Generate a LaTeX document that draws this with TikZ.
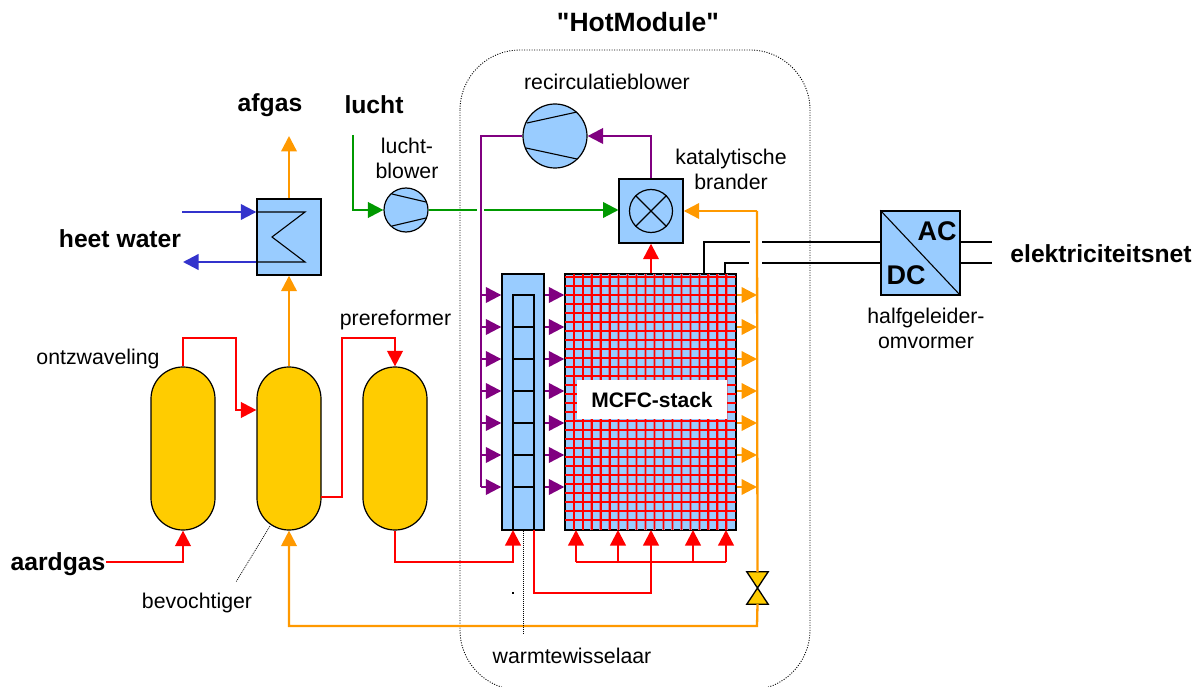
\documentclass[tikz,border=0pt]{standalone}
\usepackage{fontspec}
\setmainfont[Ligatures=TeXOff]{Liberation Sans}
\usetikzlibrary{arrows.meta}

\definecolor{unitblue}{HTML}{99CCFF}
\definecolor{vesselyellow}{HTML}{FFCC00}
\definecolor{flowred}{HTML}{FF0000}
\definecolor{floworange}{HTML}{FF9900}
\definecolor{flowpurple}{HTML}{800080}
\definecolor{flowgreen}{HTML}{009900}
\definecolor{flowblue}{HTML}{3333CC}

\tikzset{
  flow/.style={line width=2.3pt,-{Triangle[length=15.5pt,width=15.5pt]}},
  plain/.style={line width=2.3pt},
  unit/.style={draw=black,line width=1.4pt,fill=unitblue,inner sep=0pt,minimum width=#1,minimum height=#1},
  vessel/.style={draw=black,line width=1.2pt,fill=vesselyellow,inner sep=0pt,minimum width=64pt,minimum height=163pt,rounded corners=31.9pt},
  blower/.style={draw=black,line width=1.2pt,fill=unitblue,circle,inner sep=0pt,minimum size=#1},
  lbl/.style={font=\fontsize{21.3}{25}\selectfont,align=center,inner sep=0pt},
  biglbl/.style={font=\fontsize{24.7}{28}\selectfont\bfseries,align=center,inner sep=0pt},
  leader/.style={line width=0.7pt,dash pattern=on 1pt off 1pt}
}

\begin{document}
\begin{tikzpicture}[x=1pt,y=-1pt]

    \useasboundingbox (0,0) rectangle (1200,687);

    % HotModule
    \draw [line width=0.9pt,dash pattern=on 1pt off 1.5pt,rounded corners=60pt] (460,50) rectangle (810,690);

    % units
    \node [vessel] (ontzw) at (183,448.5) {};
    \node [vessel] (bevo) at (289,448.5) {};
    \node [vessel] (prer) at (395,448.5) {};
    \node [unit=64pt,minimum height=76pt] (boiler) at (289,237) {};
    \node [blower=44pt] (luchtbl) at (406,210) {};
    \node [blower=64pt] (recirc) at (555,136) {};
    \node [unit=64pt] (brander) at (651,211) {};
    \node [blower=43pt] (kat) at (651,211) {};
    \node [unit=42pt,minimum height=256pt] (hxcol) at (523,402) {};
    \node [unit=171pt,minimum height=256pt] (stack) at (650.5,402) {};
    \node [unit=79pt,minimum height=84pt] (conv) at (920.5,253) {};
    \node [inner sep=0pt,minimum width=21pt,minimum height=32pt] (valve) at (757.5,588) {};
    \node [fill=black,inner sep=0pt,minimum size=1.5pt] (speck) at (513,593) {};

    % free ends and levels
    \coordinate (waterin) at (182,212);
    \coordinate (waterout) at (183,262);
    \coordinate (afgasend) at (289,136);
    \coordinate (luchtin) at (353,135);
    \coordinate (gasin) at (106,562);
    \coordinate (purplebus) at (481,136);
    \coordinate (orangebus) at (757,211);
    \coordinate (returnlvl) at (757,626);
    \coordinate (manifold) at (576,562);
    \coordinate (powera) at (704,242);
    \coordinate (powerb) at (725,263);
    \coordinate (meet) at (651,562);

    % stack grid
    \begin{scope}
      \clip (stack.north west) rectangle (stack.south east);
      \foreach \x in {1,...,18}
        \draw [flowred!35!unitblue,line width=2.8pt] (565+8.95*\x,274) -- (565+8.95*\x,530);
      \foreach \y in {0,...,27}
        \draw [flowred!35!unitblue,line width=2.8pt] (565,520-9*\y) -- (736,520-9*\y);
      \foreach \x in {1,...,18}
        \draw [flowred,line width=1.5pt] (565+8.95*\x,274) -- (565+8.95*\x,530);
      \foreach \y in {0,...,27}
        \draw [flowred,line width=1.5pt] (565,520-9*\y) -- (736,520-9*\y);
    \end{scope}
    \draw [black,line width=1.4pt] (stack.north west) rectangle (stack.south east);

    % exchanger column inner cells
    \draw [line width=1.1pt] (513,530) -- (513,295) -- (534,295) -- (534,530);
    \foreach \y in {327,359,391,423,455,487}
      \draw [line width=1.1pt] (513,\y) -- (534,\y);

    % inner symbols
    \draw [line width=1.1pt] (boiler.west |- waterin) -- (305,212) -- (272,237) -- (305,262) -- (boiler.west |- waterout);
    \draw [line width=1.1pt] (392,194) -- (426,202) (392,226) -- (426,218);
    \draw [line width=1.1pt] (527,123) -- (577,112) (526,148) -- (577,159);
    \draw [line width=1.1pt] (kat.north west) -- (kat.south east) (kat.north east) -- (kat.south west);
    \draw [line width=1.1pt] (conv.north west) -- (conv.south east);
    \draw [draw=black,line width=1.3pt,fill=vesselyellow] (valve.north west) -- (valve.north east) -- (valve.south west) -- (valve.south east) -- cycle;

    % heat water
    \draw [flow,flowblue] (waterin) -- (boiler.west |- waterin);
    \draw [flow,flowblue] (boiler.west |- waterout) -- (waterout);

    % orange flows
    \draw [flow,floworange] (boiler.north) -- (afgasend);
    \draw [flow,floworange] (bevo.north) -- (boiler.south);
    \draw [plain,floworange] (orangebus) -- (valve.north);
    \draw [flow,floworange] (orangebus) -- (brander.east);
    \draw [flow,floworange] (valve.south) -- (returnlvl) -| (bevo.south);

    % green flows
    \draw [flow,flowgreen] (luchtin) |- (luchtbl.west);
    \draw [plain,flowgreen] (luchtbl.east) -- (477,210);
    \draw [flow,flowgreen] (484,210) -- (618.5,210);

    % purple flows
    \draw [flow,flowpurple] (brander.north) |- (recirc.east);
    \draw [plain,flowpurple] (recirc.west) -- (purplebus) -- (purplebus |- 0,487);

    % red flows
    \draw [flow,flowred] (gasin) -| (ontzw.south);
    \draw [flow,flowred] (ontzw.north) |- (236,338) |- (bevo.west |- 0,410);
    \draw [flow,flowred] (321,497) -- (342,497) |- (395,338) -- (prer.north);
    \draw [flow,flowred] (prer.south) |- (513,562) -- (513,530);
    \draw [flow,flowred] (stack.north -| brander.south) -- (brander.south);
    \draw [plain,flowred] (534,530) |- (651,593) -- (meet);
    \draw [plain,flowred] (manifold) -- (726,562);
    \foreach \x in {576,618,651,693,726}
      \draw [flow,flowred] (\x,562) -- (\x,530);

    % rows of side arrows
    \foreach \y in {295,327,359,391,423,455,487} {
      \draw [flow,flowpurple] (purplebus |- 0,\y) -- (hxcol.west |- 0,\y);
      \draw [flow,flowpurple] (hxcol.east |- 0,\y) -- (stack.west |- 0,\y);
      \draw [flow,floworange] (stack.east |- 0,\y) -- (orangebus |- 0,\y);
    }

    % power lines
    \draw [plain,black] (powera |- stack.north) -- (powera) -- (750,242);
    \draw [plain,black] (powerb |- stack.north) -- (powerb) -- (749,263);
    \draw [plain,black] (762,242) -- (conv.west |- 0,242);
    \draw [plain,black] (762,263) -- (conv.west |- 0,263);
    \draw [plain,black] (conv.east |- 0,242) -- (992,242);
    \draw [plain,black] (conv.east |- 0,263) -- (992,263);

    % leaders
    \coordinate (bevoend) at (236,582);
    \coordinate (hxend) at (523,634);
    \draw [leader] (270,526) -- (bevoend);
    \draw [leader] (hxcol.south) -- (hxend);

    % texts
    \node [fill=white,minimum width=150pt,minimum height=39pt,inner sep=0pt,font=\fontsize{21}{24}\selectfont\bfseries] (stacklbl) at (652,399.5) {MCFC-stack};
    \node [biglbl,font=\fontsize{26.5}{30}\selectfont\bfseries] (hot) at (638,22) {"HotModule"};
    \node [biglbl] (afgas) at (270,105) {afgas};
    \node [biglbl] (lucht) at (374,105) {lucht};
    \node [biglbl] (heet) at (120,239) {heet water};
    \node [biglbl] (aard) at (58,564) {aardgas};
    \node [biglbl] (net) at (1101,254) {elektriciteitsnet};
    \node [biglbl,font=\fontsize{27}{30}\selectfont\bfseries] (ac) at (937,231) {AC};
    \node [biglbl,font=\fontsize{27}{30}\selectfont\bfseries] (dc) at (906,275) {DC};
    \node [lbl] (recirclbl) at (607,82) {recirculatieblower};
    \node [lbl] (luchtlbl) at (407,158) {lucht-\\blower};
    \node [lbl] (katlbl) at (731,169) {katalytische\\brander};
    \node [lbl] (ontzwlbl) at (98,359) {ontzwaveling};
    \node [lbl] (prerlbl) at (395.5,320) {prereformer};
    \node [lbl] (bevolbl) at (197,603) {bevochtiger};
    \node [lbl] (hxlbl) at (572,656) {warmtewisselaar};
    \node [lbl] (convlbl) at (926,328) {halfgeleider-\\omvormer};

\end{tikzpicture}
\end{document}
